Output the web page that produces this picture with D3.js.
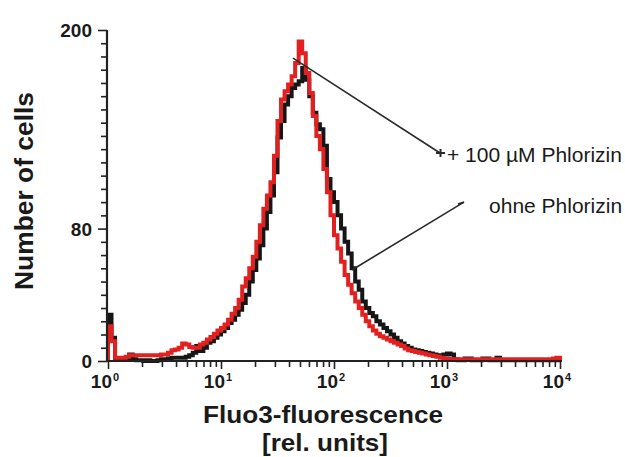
<!DOCTYPE html>
<html>
<head>
<meta charset="utf-8">
<script src="https://cdn.jsdelivr.net/npm/d3@7"></script>
<style>
  html, body { margin: 0; padding: 0; background: #fff; }
  svg { display: block; }
  .axis path, .axis line { stroke: #222; }
  text { fill: #1a1a1a; }
</style>
</head>
<body>
<svg id="chart" width="625" height="457"></svg>
<script>
// Fluo3 fluorescence histograms, 32 channels per decade from 10^0 to 10^4
const channelsPerDecade = 32;

// ohne Phlorizin (black trace)
const countsControl = [
  28, 14, 1, 1, 1, 1, 4, 1, 0.5, 0.5, 0, 0.5, 0, 0, 0.5, 1,
  1, 1.5, 2, 2, 2, 2, 2.5, 3.5, 5, 9, 6, 8, 11, 12, 14, 16,
  18, 20, 23, 25, 28, 31, 35, 40, 48, 55, 62, 70, 80, 90, 100, 114,
  135, 145, 155, 160, 165, 167, 169, 177, 170, 160, 150, 143, 140, 130, 110, 102,
  96, 88, 80, 72, 65, 56, 48, 43, 36, 32, 29, 27, 24, 22, 20, 18,
  16, 14, 12, 10.5, 9, 8, 7, 6.5, 6, 5.5, 5, 4.5, 4, 3.5, 3.5, 4,
  4.5, 4, 1, 0.5, 0.5, 1.5, 1.5, 0.5, 0.5, 0.5, 1.5, 1.5, 0.5, 0.5, 2, 0.5,
  0.5, 0.5, 0.5, 0.5, 0.5, 0.5, 0.5, 0.5, 0.5, 0.5, 0.5, 0.5, 0.5, 0.5, 0.5, 0.5
];

// + 100 µM Phlorizin (red trace)
const countsPhlorizin = [
  21, 12, 2, 2, 2, 2.5, 3.5, 3.5, 3.5, 3.5, 3.5, 3.5, 3.5, 3.5, 3.5, 4,
  4, 5, 6.5, 7, 8, 10.5, 10, 8.5, 8, 8, 10, 11, 13, 14.5, 16.5, 18.5,
  20, 22, 25, 28.5, 32, 37, 45, 50, 56, 63, 72, 82, 92, 100, 108, 124,
  145, 158, 163, 167, 172, 180, 193, 186, 174, 162, 148, 136, 128, 116, 102, 88,
  76, 68, 60, 52, 46, 41, 36, 32, 28, 24, 21, 18.5, 16.5, 15, 14, 13,
  12, 11, 10, 9, 7.5, 6.5, 6, 5.5, 5, 4.5, 4, 3.5, 3, 2.5, 2, 1.5,
  1.2, 1, 1, 1, 1, 1, 1, 1, 1, 1, 1, 1, 1, 1, 1, 1,
  1, 1, 1, 1, 1, 1, 1, 1, 1, 1, 1, 1, 1, 1, 1.5, 2
];

const yTickValues = d3.range(0, 201, 8);
const yTickLabels = [0, 80, 200];
const xDecades = [0, 1, 2, 3, 4];

const legendLabels = ["+ 100 µM Phlorizin", "ohne Phlorizin"];
const xTitle = ["Fluo3-fluorescence", "[rel. units]"];
const yTitle = "Number of cells";

const svg = d3.select("#chart");

const x = d3.scaleLog().domain([1, 1e4]).range([108, 560]);
const y = d3.scaleLinear().domain([0, 200]).range([361, 30]);

// ---- histograms as step outlines ----
function stepPoints(counts) {
  const pts = [[1, 0]];
  counts.forEach((c, i) => pts.push([Math.pow(10, i / channelsPerDecade), c]));
  pts.push([1e4, counts[counts.length - 1]]);
  pts.push([1e4, 0]);
  return pts;
}
const line = d3.line()
  .x(d => x(d[0]))
  .y(d => y(d[1]))
  .curve(d3.curveStepAfter);

svg.append("path")
  .attr("d", line(stepPoints(countsControl)))
  .attr("fill", "none")
  .attr("stroke", "#161616")
  .attr("stroke-width", 4)
  .attr("stroke-linejoin", "miter");

svg.append("path")
  .attr("d", line(stepPoints(countsPhlorizin)))
  .attr("fill", "none")
  .attr("stroke", "#e2201f")
  .attr("stroke-width", 4)
  .attr("stroke-linejoin", "miter");

// ---- axes ----
const xTickValues = [];
xDecades.slice(0, -1).forEach(d => {
  for (let m = 1; m < 10; m++) xTickValues.push(m * Math.pow(10, d));
});
xTickValues.push(1e4);

const xAxis = svg.append("g")
  .attr("class", "axis")
  .attr("transform", `translate(0,${y(0)})`)
  .call(d3.axisBottom(x).tickValues(xTickValues).tickFormat("").tickSize(6).tickSizeOuter(0));
xAxis.select(".domain").attr("stroke-width", 2.2).attr("d", `M${x(1) - 2},0H${x(1e4) + 2}`);
xAxis.selectAll(".tick line")
  .attr("stroke-width", 1.6)
  .attr("y2", d => Math.abs(Math.log10(d) - Math.round(Math.log10(d))) < 1e-9 ? 8 : 6);

const yAxis = svg.append("g")
  .attr("class", "axis")
  .attr("transform", `translate(${x(1) - 1},0)`)
  .call(d3.axisLeft(y).tickValues(yTickValues).tickFormat("").tickSize(6).tickSizeOuter(0));
yAxis.select(".domain").attr("stroke-width", 2.2).attr("d", `M0,${y(200)}V${y(0) + 1}`);
yAxis.selectAll(".tick line")
  .attr("stroke-width", 1.6)
  .attr("x2", d => yTickLabels.includes(d) ? -9 : -6);

// y tick labels
svg.append("g").selectAll("text")
  .data(yTickLabels)
  .join("text")
  .attr("x", 92)
  .attr("y", d => y(d) + 7)
  .attr("text-anchor", "end")
  .attr("font-family", "Liberation Sans, Arial, sans-serif")
  .attr("font-weight", "bold")
  .attr("font-size", 19)
  .text(d => d);

// x tick labels as powers of ten
const xl = svg.append("g").selectAll("text")
  .data(xDecades)
  .join("text")
  .attr("x", d => x(Math.pow(10, d)) - 3)
  .attr("y", 388)
  .attr("text-anchor", "middle")
  .attr("font-family", "Liberation Sans, Arial, sans-serif")
  .attr("font-weight", "bold")
  .attr("font-size", 19);
xl.append("tspan").text("10");
xl.append("tspan")
  .attr("font-size", 11)
  .attr("dy", -7)
  .attr("dx", 1)
  .text(d => d);

// axis titles
svg.append("text")
  .attr("x", 323).attr("y", 423)
  .attr("text-anchor", "middle")
  .attr("font-family", "Liberation Sans, Arial, sans-serif")
  .attr("font-weight", "bold")
  .attr("font-size", 24)
  .attr("textLength", 240)
  .attr("lengthAdjust", "spacingAndGlyphs")
  .text(xTitle[0]);
svg.append("text")
  .attr("x", 325).attr("y", 451)
  .attr("text-anchor", "middle")
  .attr("font-family", "Liberation Sans, Arial, sans-serif")
  .attr("font-weight", "bold")
  .attr("font-size", 24)
  .attr("textLength", 126)
  .attr("lengthAdjust", "spacingAndGlyphs")
  .text(xTitle[1]);
svg.append("text")
  .attr("transform", "translate(33,191) rotate(-90)")
  .attr("text-anchor", "middle")
  .attr("font-family", "Liberation Sans, Arial, sans-serif")
  .attr("font-weight", "bold")
  .attr("font-size", 26)
  .attr("textLength", 198)
  .attr("lengthAdjust", "spacingAndGlyphs")
  .text(yTitle);

// ---- leader lines and labels ----
const leaders = [
  { from: [43.4, 183], to: [867, 125.7] },
  { from: [144, 55], to: [1413, 96] }
];
const lg = svg.append("g").attr("stroke", "#2a2a2a").attr("stroke-width", 1.6).attr("fill", "none");
leaders.forEach(l => {
  lg.append("line")
    .attr("x1", x(l.from[0])).attr("y1", y(l.from[1]))
    .attr("x2", x(l.to[0])).attr("y2", y(l.to[1]));
});
// cross marker at the end of the first leader
const p1 = [x(leaders[0].to[0]), y(leaders[0].to[1])];
lg.append("path").attr("stroke-width", 2)
  .attr("d", `M${p1[0] - 4},${p1[1]}H${p1[0] + 5}M${p1[0] + 0.5},${p1[1] - 4}V${p1[1] + 4}`);
// small barb at the end of the second leader
const p2 = [x(leaders[1].to[0]), y(leaders[1].to[1])];
lg.append("path")
  .attr("d", `M${p2[0] - 6},${p2[1] + 2}L${p2[0]},${p2[1]}`);

const legendPos = [[1000, 120], [2355, 89.4]];
svg.append("g").selectAll("text")
  .data(legendLabels)
  .join("text")
  .attr("x", (d, i) => x(legendPos[i][0]))
  .attr("y", (d, i) => y(legendPos[i][1]))
  .attr("font-family", "Liberation Sans, Arial, sans-serif")
  .attr("font-size", 21)
  .text(d => d);
</script>
</body>
</html>
